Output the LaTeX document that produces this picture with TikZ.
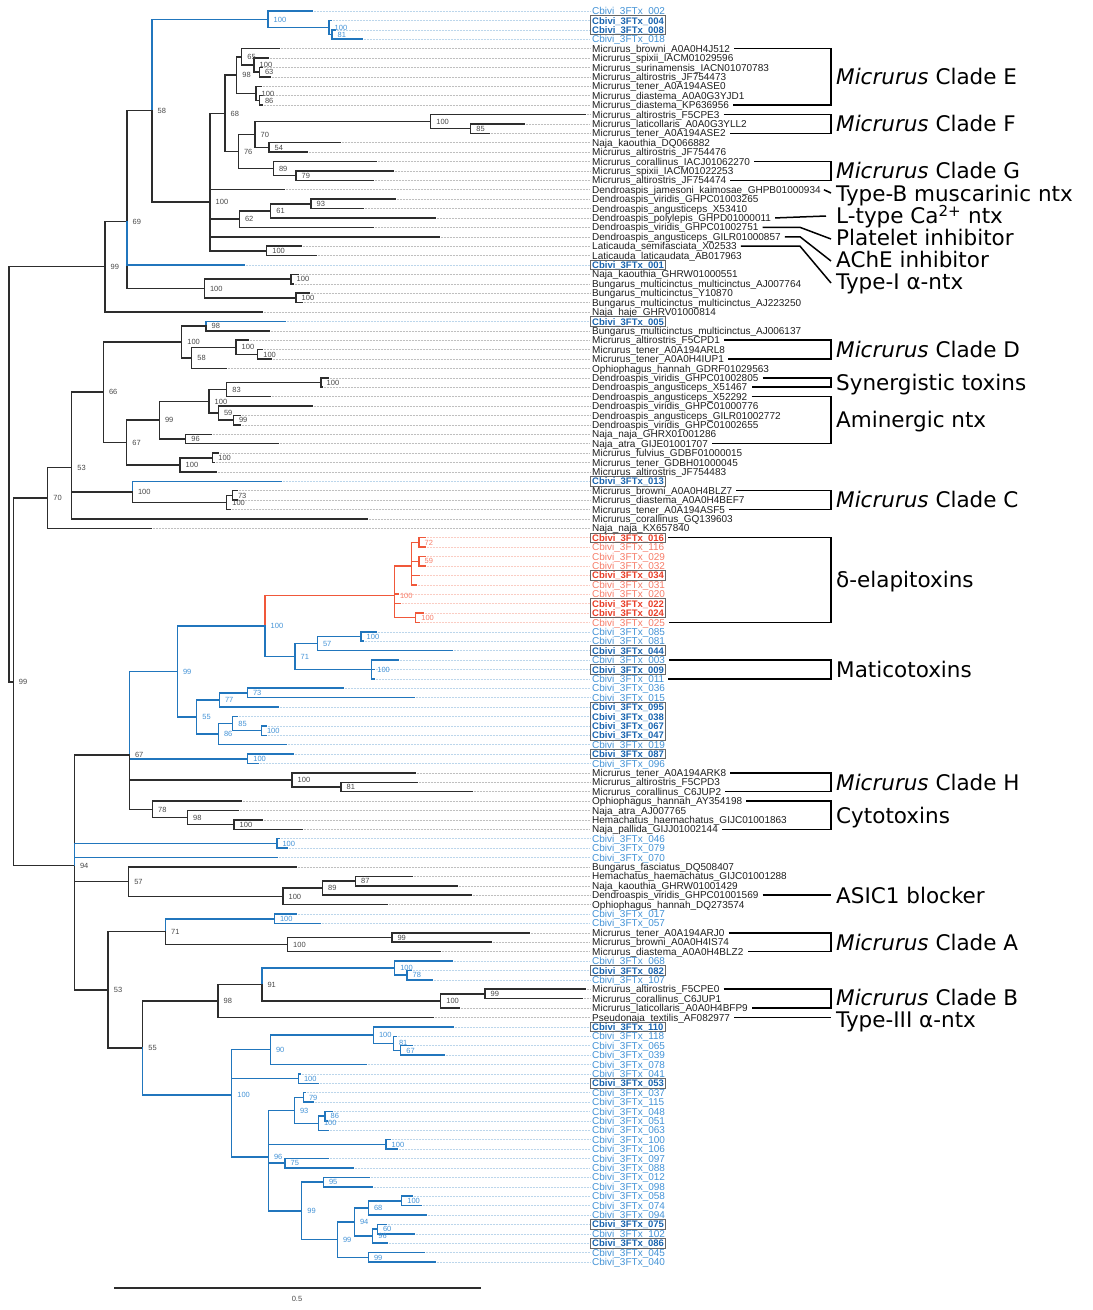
\documentclass[tikz,border=0pt]{standalone}
\usepackage{fontspec}
\setmainfont{Liberation Sans}
\newfontfamily\annfont{DejaVu Sans}
\definecolor{cbr}{RGB}{33,118,189}
\definecolor{cbl}{RGB}{66,146,214}
\definecolor{cbd}{RGB}{25,100,175}
\definecolor{crr}{RGB}{240,88,58}
\definecolor{crl}{RGB}{246,125,105}
\definecolor{crd}{RGB}{232,62,40}
\definecolor{ckk}{RGB}{45,45,45}
\tikzset{
 bk/.style={draw=ckk, line width=1.5pt, line cap=rect},
 bb/.style={draw=cbr, line width=1.5pt, line cap=rect},
 br/.style={draw=crr, line width=1.5pt, line cap=rect},
 dk/.style={draw=black!25, line width=0.5pt, densely dotted},
 db/.style={draw=cbr!30, line width=0.5pt, densely dotted},
 dr/.style={draw=crr!30, line width=0.5pt, densely dotted},
 leaf/.style={anchor=west, inner sep=0pt, text height=7.2pt, text depth=0pt, font=\fontsize{10}{11}\selectfont},
 lk/.style={leaf, text=black!88},
 lb/.style={leaf, text=cbl},
 lbx/.style={leaf, text=cbd, font=\fontsize{9.5}{11}\selectfont\bfseries},
 lr/.style={leaf, text=crl},
 lrx/.style={leaf, text=crd, font=\fontsize{9.5}{11}\selectfont\bfseries},
 sup/.style={anchor=west, inner sep=0pt, text height=5.4pt, text depth=0pt, font=\fontsize{7.5}{8}\selectfont},
 sk/.style={sup, text=black!72},
 sb/.style={sup, text=cbl},
 sr/.style={sup, text=crl},
 boxx/.style={draw=black!60, line width=0.8pt},
 brk/.style={draw=black, line width=1.5pt},
 ann/.style={anchor=base west, inner sep=0pt, font=\annfont\fontsize{21.5}{24}\selectfont},
}
\newcommand{\Nd}[3]{\coordinate (#1) at (#2,#3);}
\newcommand{\LfK}[2]{\coordinate (L#1) at (#2,{11+9.406*#1}); \draw[dk] (L#1) -- (590,{11+9.406*#1});}
\newcommand{\LfB}[2]{\coordinate (L#1) at (#2,{11+9.406*#1}); \draw[db] (L#1) -- (590,{11+9.406*#1});}
\newcommand{\LfR}[2]{\coordinate (L#1) at (#2,{11+9.406*#1}); \draw[dr] (L#1) -- (590,{11+9.406*#1});}
\newcommand{\EK}[2]{\foreach \cc in {#2} {\draw[bk] (#1) |- (\cc);}}
\newcommand{\EB}[2]{\foreach \cc in {#2} {\draw[bb] (#1) |- (\cc);}}
\newcommand{\ER}[2]{\foreach \cc in {#2} {\draw[br] (#1) |- (\cc);}}
\newcommand{\TL}[3]{\node[#1] (T#2) at (592,{11+9.406*#2}) {#3};}
\newcommand{\Cb}[1]{Cbivi\_3FTx\_#1}
\newcommand{\Sp}[3]{\node[#1] (s#2) at ([xshift=5.5pt]#2) {#3};}
\newcommand{\Bx}[2]{\draw[boxx] (590.5,{11+9.406*#1-4.8}) rectangle (665.5,{11+9.406*#2+4.8});}
\newcommand{\Brk}[2]{\draw[brk] ([xshift=4pt]T#1.east) -- (831,{11+9.406*#1}) -- (831,{11+9.406*#2}) -- ([xshift=4pt]T#2.east);}
\begin{document}
\begin{tikzpicture}[x=1pt,y=-1pt]
\useasboundingbox (0,0) rectangle (1093,1310);
% leaves
\LfB{0}{312} \LfB{1}{331} \LfB{2}{335} \LfB{3}{362}
\LfK{4}{279} \LfK{5}{268} \LfK{6}{262} \LfK{7}{270} \LfK{8}{261} \LfK{9}{262} \LfK{10}{262}
\LfK{11}{585} \LfK{12}{524} \LfK{13}{489} \LfK{14}{340} \LfK{15}{307} \LfK{16}{376} \LfK{17}{393} \LfK{18}{373}
\LfK{19}{284} \LfK{20}{395} \LfK{21}{363} \LfK{22}{435} \LfK{23}{373} \LfK{24}{439} \LfK{25}{301} \LfK{26}{316}
\LfB{27}{244}
\LfK{28}{298} \LfK{29}{293} \LfK{30}{309} \LfK{31}{302} \LfK{32}{262}
\LfB{33}{285} \LfK{34}{269} \LfK{35}{248} \LfK{36}{262} \LfK{37}{271} \LfK{38}{226} \LfK{39}{328} \LfK{40}{322}
\LfK{41}{270} \LfK{42}{312} \LfK{43}{240} \LfK{44}{240} \LfK{45}{211} \LfK{46}{278} \LfK{47}{218} \LfK{48}{214} \LfK{49}{216}
\LfB{50}{281} \LfK{51}{237} \LfK{52}{237} \LfK{53}{230} \LfK{54}{367} \LfK{55}{151}
\LfR{56}{425} \LfR{57}{425} \LfR{58}{425} \LfR{59}{425} \LfR{60}{419} \LfR{61}{416} \LfR{62}{398} \LfR{63}{400} \LfR{64}{423} \LfR{65}{419}
\LfB{66}{376} \LfB{67}{363} \LfB{68}{452} \LfB{69}{398} \LfB{70}{374} \LfB{71}{374} \LfB{72}{343} \LfB{73}{414}
\LfB{74}{278} \LfB{75}{237} \LfB{76}{266} \LfB{77}{266} \LfB{78}{286} \LfB{79}{293} \LfB{80}{258}
\LfK{81}{415} \LfK{82}{417} \LfK{83}{472} \LfK{84}{241} \LfK{85}{238} \LfK{86}{262} \LfK{87}{302}
\LfB{88}{279} \LfB{89}{287} \LfB{90}{277}
\LfK{91}{296} \LfK{92}{412} \LfK{93}{457} \LfK{94}{471} \LfK{95}{387}
\LfB{96}{296} \LfB{97}{320}
\LfK{98}{529} \LfK{99}{491} \LfK{100}{440}
\LfB{101}{452} \LfB{102}{411} \LfB{103}{432}
\LfK{104}{585} \LfK{105}{582} \LfK{106}{459} \LfK{107}{433}
\LfB{108}{453} \LfB{109}{396} \LfB{110}{412} \LfB{111}{444} \LfB{112}{366} \LfB{113}{300} \LfB{114}{318}
\LfB{115}{305} \LfB{116}{313} \LfB{117}{332} \LfB{118}{327} \LfB{119}{328} \LfB{120}{390} \LfB{121}{397}
\LfB{122}{328} \LfB{123}{353} \LfB{124}{369} \LfB{125}{372} \LfB{126}{412} \LfB{127}{421} \LfB{128}{426}
\LfB{129}{386} \LfB{130}{414} \LfB{131}{387} \LfB{132}{424} \LfB{133}{435}
% internal nodes
\Nd{root}{9}{474.2} \Nd{n99top}{105}{266.7} \Nd{n69}{127}{221.4} \Nd{n58}{152}{110.6}
\Nd{nB1}{268}{19.3} \Nd{nB2}{329}{27.45} \Nd{nB3}{332}{34.5}
\Nd{n100a}{210}{201.9} \Nd{n68}{225}{113.3} \Nd{n98}{236.7}{75.1} \Nd{n65}{241.7}{56.8}
\Nd{n100c}{254}{65.05} \Nd{n63}{259.3}{72.1} \Nd{n100b}{256}{93.3} \Nd{n86}{259.3}{100.4}
\Nd{n76}{238.3}{151.5} \Nd{n70}{255}{134.45} \Nd{n100d}{430.7}{121.5} \Nd{n85}{470.7}{128.6}
\Nd{n54}{269}{147.4} \Nd{n89}{273.3}{168.55} \Nd{n79}{296}{175.6}
\Nd{n62}{239.3}{219.1} \Nd{n61}{270.7}{210.85} \Nd{n93}{311}{203.8} \Nd{n100lat}{266.7}{250.9}
\Nd{n100nb}{204.3}{288.5} \Nd{n100e}{291}{279.1} \Nd{n100f}{296}{297.9}
\Nd{nR2}{13.3}{681.75} \Nd{n70b}{47.7}{498.0} \Nd{n53a}{71.7}{467.7} \Nd{n66}{103.3}{392.2}
\Nd{n100h}{181.7}{341.95} \Nd{n98b}{206}{326.1} \Nd{n58b}{191.7}{357.8} \Nd{n100i}{236}{347.25} \Nd{n100j}{257.7}{354.3}
\Nd{n67a}{126.7}{442.5} \Nd{n99a}{159.3}{420.1} \Nd{n100l}{209}{401.3} \Nd{n83}{226.7}{389.55}
\Nd{n100m}{321}{382.5} \Nd{n59}{218.3}{413.05} \Nd{n99b}{233.3}{420.1} \Nd{n96a}{185.7}{438.95}
\Nd{n100k}{180}{464.85} \Nd{n100n}{212.7}{457.8}
\Nd{n100g}{132.3}{491.9} \Nd{n100gg}{226.7}{502.45} \Nd{n73a}{232.3}{495.4}
\Nd{n94}{74.3}{865.5} \Nd{n67b}{129.3}{754.9} \Nd{n99c}{177.3}{671.5} \Nd{nRB}{265}{625.9}
\Nd{nRed}{394.3}{595.4} \Nd{nRsub}{411.7}{566.0} \Nd{n72r}{419}{542.4} \Nd{n59r}{419}{561.25} \Nd{n100r2}{415.7}{617.7}
\Nd{n71a}{295}{656.5} \Nd{n57b}{317.3}{643.55} \Nd{n100o}{361}{636.5} \Nd{n100p}{371.7}{669.4}
\Nd{n55b}{196.7}{717.1} \Nd{n77}{219.3}{700.05} \Nd{n73b}{247.3}{693.0} \Nd{n86c}{218.3}{734.1}
\Nd{n85b}{232.7}{723.55} \Nd{n100q}{261.3}{730.6} \Nd{n100r}{247.7}{758.8}
\Nd{n100s}{292}{779.95} \Nd{n81a}{341}{787.0} \Nd{n78a}{152.5}{809.4} \Nd{n98c}{187.5}{817.65} \Nd{n100t}{234}{824.7}
\Nd{n100u}{276.8}{843.5} \Nd{n57a}{128.6}{881.7} \Nd{n100v}{282.9}{896.4} \Nd{n89b}{322.5}{888.15} \Nd{n87a}{355.4}{881.1}
\Nd{n53b}{108.2}{989.9} \Nd{n71b}{165.4}{931.7} \Nd{n100w}{274.3}{918.75} \Nd{n100x}{287.5}{944.65} \Nd{n99d}{391.8}{937.6}
\Nd{n55c}{142.7}{1048.1} \Nd{n98d}{217.9}{1001.0} \Nd{n91}{261.8}{984.6} \Nd{n100y}{394.6}{968.15} \Nd{n78b}{407}{975.2}
\Nd{n100z}{440.7}{1001.05} \Nd{n99e}{485}{994.0}
\Nd{n100big}{231.7}{1095.15} \Nd{n90}{270.3}{1049.7} \Nd{n100bb}{373.3}{1035.0} \Nd{n81b}{393.3}{1043.25} \Nd{n67c}{400.7}{1050.3}
\Nd{n100aa}{298.3}{1078.55} \Nd{n96big}{268.3}{1157.2} \Nd{n93b}{294.3}{1110.3} \Nd{n79b}{303.3}{1097.4}
\Nd{n100dd}{318.3}{1123.25} \Nd{n86d}{325}{1116.2} \Nd{n100cc}{386}{1144.4} \Nd{n75}{285}{1163.2}
\Nd{n99f}{301.7}{1210.8} \Nd{n95}{323.3}{1182.0} \Nd{n99g}{337.3}{1239.6} \Nd{n94b}{354.3}{1221.95}
\Nd{n68b}{368.3}{1207.85} \Nd{n100ee}{401.7}{1200.8} \Nd{n96b}{372.7}{1236.1} \Nd{n60}{377.3}{1229.05} \Nd{n99h}{368.3}{1257.3}
% edges
\EK{root}{n99top,nR2}
\EK{n99top}{n69,L32}
\EK{n69}{n58,n100nb} \EB{n69}{L27}
\EB{n58}{nB1} \EK{n58}{n100a}
\EB{nB1}{L0,nB2} \EB{nB2}{L1,nB3} \EB{nB3}{L2,L3}
\EK{n100a}{n68,L19,n62,L24,n100lat}
\EK{n68}{n98,n76} \EK{n98}{n65,n100b} \EK{n65}{L4,n100c} \EK{n100c}{L5,n63} \EK{n63}{L6,L7}
\EK{n100b}{L8,n86} \EK{n86}{L9,L10}
\EK{n76}{n70,n89} \EK{n70}{n100d,n54} \EK{n100d}{L11,n85} \EK{n85}{L12,L13} \EK{n54}{L14,L15}
\EK{n89}{L16,n79} \EK{n79}{L17,L18}
\EK{n62}{n61,L23} \EK{n61}{n93,L22} \EK{n93}{L20,L21} \EK{n100lat}{L25,L26}
\EK{n100nb}{n100e,n100f} \EK{n100e}{L28,L29} \EK{n100f}{L30,L31}
\EK{nR2}{n70b,n94}
\EK{n70b}{n53a,L55} \EK{n53a}{n66,n100g,L54} \EK{n66}{n100h,n67a}
\EK{n100h}{n98b,n58b} \EB{n98b}{L33} \EK{n98b}{L34}
\EK{n58b}{n100i,L38} \EK{n100i}{L35,n100j} \EK{n100j}{L36,L37}
\EK{n67a}{n99a,n100k} \EK{n99a}{n100l,n96a} \EK{n100l}{n83,n59} \EK{n83}{n100m,L41} \EK{n100m}{L39,L40}
\EK{n59}{L42,n99b} \EK{n99b}{L43,L44} \EK{n96a}{L45,L46} \EK{n100k}{n100n,L49} \EK{n100n}{L47,L48}
\EB{n100g}{L50} \EK{n100g}{n100gg} \EK{n100gg}{n73a,L53} \EK{n73a}{L51,L52}
\EK{n94}{n67b,n57a,n53b} \EB{n94}{n100u,L90}
\EB{n67b}{n99c,n100r} \EK{n67b}{n100s,n78a}
\EB{n99c}{nRB,n55b}
\ER{nRB}{nRed} \EB{nRB}{n71a}
\ER{nRed}{nRsub,L62,L63,n100r2} \ER{nRsub}{n72r,n59r,L60,L61} \ER{n72r}{L56,L57} \ER{n59r}{L58,L59} \ER{n100r2}{L64,L65}
\EB{n71a}{n57b,n100p} \EB{n57b}{n100o,L68} \EB{n100o}{L66,L67} \EB{n100p}{L69,L70,L71}
\EB{n55b}{n77,n86c} \EB{n77}{n73b,L74} \EB{n73b}{L72,L73} \EB{n86c}{n85b,L78} \EB{n85b}{L75,n100q} \EB{n100q}{L76,L77}
\EB{n100r}{L79,L80}
\EK{n100s}{L81,n81a} \EK{n81a}{L82,L83}
\EK{n78a}{L84,n98c} \EK{n98c}{L85,n100t} \EK{n100t}{L86,L87}
\EB{n100u}{L88,L89}
\EK{n57a}{L91,n100v} \EK{n100v}{n89b,L95} \EK{n89b}{n87a,L94} \EK{n87a}{L92,L93}
\EK{n53b}{n71b,n55c}
\EB{n71b}{n100w} \EK{n71b}{n100x} \EB{n100w}{L96,L97} \EK{n100x}{n99d,L100} \EK{n99d}{L98,L99}
\EK{n55c}{n98d} \EB{n55c}{n100big}
\EK{n98d}{n91,L107} \EB{n91}{n100y} \EK{n91}{n100z}
\EB{n100y}{L101,n78b} \EB{n78b}{L102,L103}
\EK{n100z}{n99e,L106} \EK{n99e}{L104,L105}
\EB{n100big}{n90,n100aa,n96big}
\EB{n90}{n100bb,L112} \EB{n100bb}{L108,n81b} \EB{n81b}{L109,n67c} \EB{n67c}{L110,L111}
\EB{n100aa}{L113,L114}
\EB{n96big}{n93b,n100cc,n75,n99f}
\EB{n93b}{n79b,n100dd} \EB{n79b}{L115,L116} \EB{n100dd}{n86d,L119} \EB{n86d}{L117,L118}
\EB{n100cc}{L120,L121} \EB{n75}{L122,L123}
\EB{n99f}{n95,n99g} \EB{n95}{L124,L125} \EB{n99g}{n94b,n99h} \EB{n94b}{n68b,n96b}
\EB{n68b}{n100ee,L128} \EB{n100ee}{L126,L127} \EB{n96b}{n60,L131} \EB{n60}{L129,L130} \EB{n99h}{L132,L133}
% support values
\Sp{sk}{n99top}{99} \Sp{sk}{n69}{69} \Sp{sk}{n58}{58}
\Sp{sb}{nB1}{100} \Sp{sb}{nB2}{100} \Sp{sb}{nB3}{81}
\Sp{sk}{n100a}{100} \Sp{sk}{n68}{68} \Sp{sk}{n98}{98} \Sp{sk}{n65}{65} \Sp{sk}{n100c}{100} \Sp{sk}{n63}{63}
\Sp{sk}{n100b}{100} \Sp{sk}{n86}{86} \Sp{sk}{n76}{76} \Sp{sk}{n70}{70} \Sp{sk}{n100d}{100} \Sp{sk}{n85}{85}
\Sp{sk}{n54}{54} \Sp{sk}{n89}{89} \Sp{sk}{n79}{79} \Sp{sk}{n62}{62} \Sp{sk}{n61}{61} \Sp{sk}{n93}{93}
\Sp{sk}{n100lat}{100} \Sp{sk}{n100nb}{100} \Sp{sk}{n100e}{100} \Sp{sk}{n100f}{100}
\Sp{sk}{nR2}{99} \Sp{sk}{n70b}{70} \Sp{sk}{n53a}{53} \Sp{sk}{n66}{66} \Sp{sk}{n100h}{100} \Sp{sk}{n98b}{98}
\Sp{sk}{n58b}{58} \Sp{sk}{n100i}{100} \Sp{sk}{n100j}{100} \Sp{sk}{n67a}{67} \Sp{sk}{n99a}{99} \Sp{sk}{n100l}{100}
\Sp{sk}{n83}{83} \Sp{sk}{n100m}{100} \Sp{sk}{n59}{59} \Sp{sk}{n99b}{99} \Sp{sk}{n96a}{96} \Sp{sk}{n100k}{100}
\Sp{sk}{n100n}{100} \Sp{sk}{n100g}{100} \Sp{sk}{n73a}{73} \Sp{sk}{n100gg}{100}
\Sp{sk}{n94}{94} \Sp{sk}{n67b}{67} \Sp{sb}{n99c}{99} \Sp{sb}{nRB}{100}
\Sp{sr}{nRed}{100} \Sp{sr}{n72r}{72} \Sp{sr}{n59r}{59} \Sp{sr}{n100r2}{100}
\Sp{sb}{n71a}{71} \Sp{sb}{n57b}{57} \Sp{sb}{n100o}{100} \Sp{sb}{n100p}{100}
\Sp{sb}{n55b}{55} \Sp{sb}{n77}{77} \Sp{sb}{n73b}{73} \Sp{sb}{n86c}{86} \Sp{sb}{n85b}{85} \Sp{sb}{n100q}{100}
\Sp{sb}{n100r}{100} \Sp{sk}{n100s}{100} \Sp{sk}{n81a}{81} \Sp{sk}{n78a}{78} \Sp{sk}{n98c}{98} \Sp{sk}{n100t}{100}
\Sp{sb}{n100u}{100} \Sp{sk}{n57a}{57} \Sp{sk}{n100v}{100} \Sp{sk}{n89b}{89} \Sp{sk}{n87a}{87}
\Sp{sk}{n53b}{53} \Sp{sk}{n71b}{71} \Sp{sb}{n100w}{100} \Sp{sk}{n100x}{100} \Sp{sk}{n99d}{99}
\Sp{sk}{n55c}{55} \Sp{sk}{n98d}{98} \Sp{sk}{n91}{91} \Sp{sb}{n100y}{100} \Sp{sb}{n78b}{78}
\Sp{sk}{n100z}{100} \Sp{sk}{n99e}{99}
\Sp{sb}{n100big}{100} \Sp{sb}{n90}{90} \Sp{sb}{n100bb}{100} \Sp{sb}{n81b}{81} \Sp{sb}{n67c}{67}
\Sp{sb}{n100aa}{100} \Sp{sb}{n96big}{96} \Sp{sb}{n93b}{93} \Sp{sb}{n79b}{79} \Sp{sb}{n100dd}{100} \Sp{sb}{n86d}{86}
\Sp{sb}{n100cc}{100} \Sp{sb}{n75}{75} \Sp{sb}{n99f}{99} \Sp{sb}{n95}{95} \Sp{sb}{n99g}{99} \Sp{sb}{n94b}{94}
\Sp{sb}{n68b}{68} \Sp{sb}{n100ee}{100} \Sp{sb}{n96b}{96} \Sp{sb}{n60}{60} \Sp{sb}{n99h}{99}
% leaf labels
\TL{lb}{0}{\Cb{002}} \TL{lbx}{1}{\Cb{004}} \TL{lbx}{2}{\Cb{008}} \TL{lb}{3}{\Cb{018}}
\TL{lk}{4}{Micrurus\_browni\_A0A0H4J512}
\TL{lk}{5}{Micrurus\_spixii\_IACM01029596}
\TL{lk}{6}{Micrurus\_surinamensis\_IACN01070783}
\TL{lk}{7}{Micrurus\_altirostris\_JF754473}
\TL{lk}{8}{Micrurus\_tener\_A0A194ASE0}
\TL{lk}{9}{Micrurus\_diastema\_A0A0G3YJD1}
\TL{lk}{10}{Micrurus\_diastema\_KP636956}
\TL{lk}{11}{Micrurus\_altirostris\_F5CPE3}
\TL{lk}{12}{Micrurus\_laticollaris\_A0A0G3YLL2}
\TL{lk}{13}{Micrurus\_tener\_A0A194ASE2}
\TL{lk}{14}{Naja\_kaouthia\_DQ066882}
\TL{lk}{15}{Micrurus\_altirostris\_JF754476}
\TL{lk}{16}{Micrurus\_corallinus\_IACJ01062270}
\TL{lk}{17}{Micrurus\_spixii\_IACM01022253}
\TL{lk}{18}{Micrurus\_altirostris\_JF754474}
\TL{lk}{19}{Dendroaspis\_jamesoni\_kaimosae\_GHPB01000934}
\TL{lk}{20}{Dendroaspis\_viridis\_GHPC01003265}
\TL{lk}{21}{Dendroaspis\_angusticeps\_X53410}
\TL{lk}{22}{Dendroaspis\_polylepis\_GHPD01000011}
\TL{lk}{23}{Dendroaspis\_viridis\_GHPC01002751}
\TL{lk}{24}{Dendroaspis\_angusticeps\_GILR01000857}
\TL{lk}{25}{Laticauda\_semifasciata\_X02533}
\TL{lk}{26}{Laticauda\_laticaudata\_AB017963}
\TL{lbx}{27}{\Cb{001}}
\TL{lk}{28}{Naja\_kaouthia\_GHRW01000551}
\TL{lk}{29}{Bungarus\_multicinctus\_multicinctus\_AJ007764}
\TL{lk}{30}{Bungarus\_multicinctus\_Y10870}
\TL{lk}{31}{Bungarus\_multicinctus\_multicinctus\_AJ223250}
\TL{lk}{32}{Naja\_haje\_GHRV01000814}
\TL{lbx}{33}{\Cb{005}}
\TL{lk}{34}{Bungarus\_multicinctus\_multicinctus\_AJ006137}
\TL{lk}{35}{Micrurus\_altirostris\_F5CPD1}
\TL{lk}{36}{Micrurus\_tener\_A0A194ARL8}
\TL{lk}{37}{Micrurus\_tener\_A0A0H4IUP1}
\TL{lk}{38}{Ophiophagus\_hannah\_GDRF01029563}
\TL{lk}{39}{Dendroaspis\_viridis\_GHPC01002805}
\TL{lk}{40}{Dendroaspis\_angusticeps\_X51467}
\TL{lk}{41}{Dendroaspis\_angusticeps\_X52292}
\TL{lk}{42}{Dendroaspis\_viridis\_GHPC01000776}
\TL{lk}{43}{Dendroaspis\_angusticeps\_GILR01002772}
\TL{lk}{44}{Dendroaspis\_viridis\_GHPC01002655}
\TL{lk}{45}{Naja\_naja\_GHRX01001286}
\TL{lk}{46}{Naja\_atra\_GIJE01001707}
\TL{lk}{47}{Micrurus\_fulvius\_GDBF01000015}
\TL{lk}{48}{Micrurus\_tener\_GDBH01000045}
\TL{lk}{49}{Micrurus\_altirostris\_JF754483}
\TL{lbx}{50}{\Cb{013}}
\TL{lk}{51}{Micrurus\_browni\_A0A0H4BLZ7}
\TL{lk}{52}{Micrurus\_diastema\_A0A0H4BEF7}
\TL{lk}{53}{Micrurus\_tener\_A0A194ASF5}
\TL{lk}{54}{Micrurus\_corallinus\_GQ139603}
\TL{lk}{55}{Naja\_naja\_KX657840}
\TL{lrx}{56}{\Cb{016}} \TL{lr}{57}{\Cb{116}} \TL{lr}{58}{\Cb{029}} \TL{lr}{59}{\Cb{032}} \TL{lrx}{60}{\Cb{034}}
\TL{lr}{61}{\Cb{031}} \TL{lr}{62}{\Cb{020}} \TL{lrx}{63}{\Cb{022}} \TL{lrx}{64}{\Cb{024}} \TL{lr}{65}{\Cb{025}}
\TL{lb}{66}{\Cb{085}} \TL{lb}{67}{\Cb{081}} \TL{lbx}{68}{\Cb{044}} \TL{lb}{69}{\Cb{003}} \TL{lbx}{70}{\Cb{009}}
\TL{lb}{71}{\Cb{011}} \TL{lb}{72}{\Cb{036}} \TL{lb}{73}{\Cb{015}} \TL{lbx}{74}{\Cb{095}} \TL{lbx}{75}{\Cb{038}}
\TL{lbx}{76}{\Cb{067}} \TL{lbx}{77}{\Cb{047}} \TL{lb}{78}{\Cb{019}} \TL{lbx}{79}{\Cb{087}} \TL{lb}{80}{\Cb{096}}
\TL{lk}{81}{Micrurus\_tener\_A0A194ARK8}
\TL{lk}{82}{Micrurus\_altirostris\_F5CPD3}
\TL{lk}{83}{Micrurus\_corallinus\_C6JUP2}
\TL{lk}{84}{Ophiophagus\_hannah\_AY354198}
\TL{lk}{85}{Naja\_atra\_AJ007765}
\TL{lk}{86}{Hemachatus\_haemachatus\_GIJC01001863}
\TL{lk}{87}{Naja\_pallida\_GIJJ01002144}
\TL{lb}{88}{\Cb{046}} \TL{lb}{89}{\Cb{079}} \TL{lb}{90}{\Cb{070}}
\TL{lk}{91}{Bungarus\_fasciatus\_DQ508407}
\TL{lk}{92}{Hemachatus\_haemachatus\_GIJC01001288}
\TL{lk}{93}{Naja\_kaouthia\_GHRW01001429}
\TL{lk}{94}{Dendroaspis\_viridis\_GHPC01001569}
\TL{lk}{95}{Ophiophagus\_hannah\_DQ273574}
\TL{lb}{96}{\Cb{017}} \TL{lb}{97}{\Cb{057}}
\TL{lk}{98}{Micrurus\_tener\_A0A194ARJ0}
\TL{lk}{99}{Micrurus\_browni\_A0A0H4IS74}
\TL{lk}{100}{Micrurus\_diastema\_A0A0H4BLZ2}
\TL{lb}{101}{\Cb{068}} \TL{lbx}{102}{\Cb{082}} \TL{lb}{103}{\Cb{107}}
\TL{lk}{104}{Micrurus\_altirostris\_F5CPE0}
\TL{lk}{105}{Micrurus\_corallinus\_C6JUP1}
\TL{lk}{106}{Micrurus\_laticollaris\_A0A0H4BFP9}
\TL{lk}{107}{Pseudonaja\_textilis\_AF082977}
\TL{lbx}{108}{\Cb{110}} \TL{lb}{109}{\Cb{118}} \TL{lb}{110}{\Cb{065}} \TL{lb}{111}{\Cb{039}} \TL{lb}{112}{\Cb{078}}
\TL{lb}{113}{\Cb{041}} \TL{lbx}{114}{\Cb{053}} \TL{lb}{115}{\Cb{037}} \TL{lb}{116}{\Cb{115}} \TL{lb}{117}{\Cb{048}}
\TL{lb}{118}{\Cb{051}} \TL{lb}{119}{\Cb{063}} \TL{lb}{120}{\Cb{100}} \TL{lb}{121}{\Cb{106}} \TL{lb}{122}{\Cb{097}}
\TL{lb}{123}{\Cb{088}} \TL{lb}{124}{\Cb{012}} \TL{lb}{125}{\Cb{098}} \TL{lb}{126}{\Cb{058}} \TL{lb}{127}{\Cb{074}}
\TL{lb}{128}{\Cb{094}} \TL{lbx}{129}{\Cb{075}} \TL{lb}{130}{\Cb{102}} \TL{lbx}{131}{\Cb{086}} \TL{lb}{132}{\Cb{045}}
\TL{lb}{133}{\Cb{040}}
% boxes
\Bx{1}{2} \Bx{27}{27} \Bx{33}{33} \Bx{50}{50} \Bx{56}{56} \Bx{60}{60} \Bx{63}{64} \Bx{68}{68} \Bx{70}{70}
\Bx{74}{77} \Bx{79}{79} \Bx{102}{102} \Bx{108}{108} \Bx{114}{114} \Bx{129}{129} \Bx{131}{131}
% brackets and leaders
\Brk{4}{10} \Brk{11}{13} \Brk{16}{18} \Brk{35}{37} \Brk{39}{40} \Brk{41}{46} \Brk{51}{53}
\Brk{56}{65} \Brk{69}{71} \Brk{81}{83} \Brk{84}{87} \Brk{98}{100} \Brk{104}{106}
\draw[brk] ([xshift=3pt]T19.east) -- (831,193);
\draw[brk] ([xshift=4pt]T22.east) -- (826,216);
\draw[brk] ([xshift=4pt]T23.east) -- (800,{11+9.406*23}) -- (831,239);
\draw[brk] ([xshift=4pt]T24.east) -- (800,{11+9.406*24}) -- (831,261);
\draw[brk] ([xshift=4pt]T25.east) -- (800,{11+9.406*25}) -- (831,283);
\draw[brk] ([xshift=4pt]T94.east) -- (831,{11+9.406*94});
\draw[brk] ([xshift=4pt]T107.east) -- (831,{11+9.406*107});
% annotations
\node[ann] (aE) at (836,84.8) {\textit{Micrurus} Clade E};
\node[ann] (aF) at (836,131.7) {\textit{Micrurus} Clade F};
\node[ann] (aG) at (836,178.7) {\textit{Micrurus} Clade G};
\node[ann] (aTB) at (836,201.8) {Type-B muscarinic ntx};
\node[ann] (aL) at (836,223.8) {L-type Ca\textsuperscript{2+} ntx};
\node[ann] (aP) at (836,245.8) {Platelet inhibitor};
\node[ann] (aA) at (836,267.8) {AChE inhibitor};
\node[ann] (aT1) at (836,289.8) {Type-I α-ntx};
\node[ann] (aD) at (836,357.4) {\textit{Micrurus} Clade D};
\node[ann] (aS) at (836,390.3) {Synergistic toxins};
\node[ann] (aAm) at (836,427.8) {Aminergic ntx};
\node[ann] (aC) at (836,507.9) {\textit{Micrurus} Clade C};
\node[ann] (aDe) at (836,587.8) {δ-elapitoxins};
\node[ann] (aM) at (836,677.2) {Maticotoxins};
\node[ann] (aH) at (836,790.1) {\textit{Micrurus} Clade H};
\node[ann] (aCy) at (836,823.1) {Cytotoxins};
\node[ann] (aAS) at (836,903.0) {ASIC1 blocker};
\node[ann] (aCA) at (836,950.1) {\textit{Micrurus} Clade A};
\node[ann] (aCB) at (836,1005.0) {\textit{Micrurus} Clade B};
\node[ann] (aT3) at (836,1027.0) {Type-III α-ntx};
% scale bar
\coordinate (sbL) at (115,1288); \coordinate (sbR) at (480,1288);
\draw[bk] (sbL) -- (sbR);
\node[sk, anchor=center] (sbT) at (297,1299) {0.5};
\end{tikzpicture}
\end{document}
